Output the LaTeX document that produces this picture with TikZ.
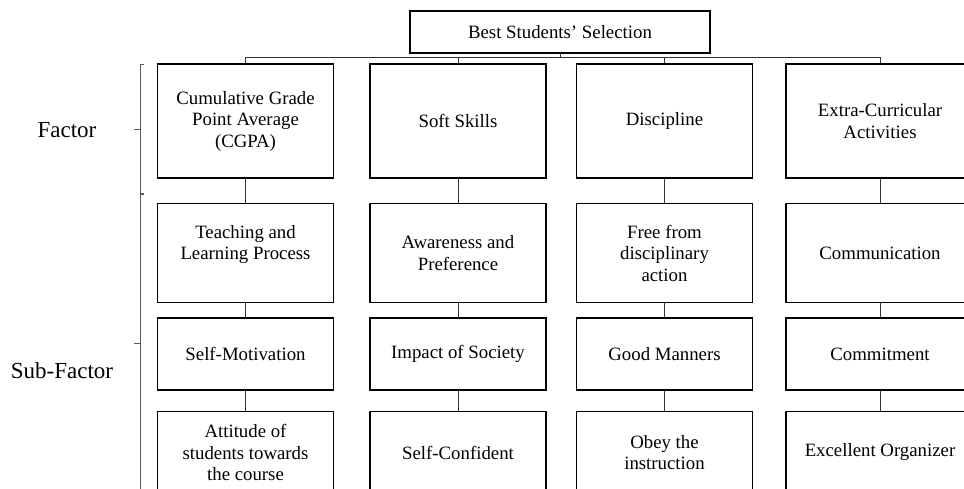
\documentclass[tikz,border=0pt]{standalone}
\usepackage{fontspec}
\setmainfont{Liberation Serif}
\usetikzlibrary{positioning}

\tikzset{
  boxtext/.style={font=\fontsize{18.8}{21.5}\selectfont, align=center},
  topbox/.style={draw, line width=1.5pt, boxtext, minimum width=300pt, minimum height=42pt},
  factorbox/.style={draw, line width=1.5pt, boxtext, minimum width=176pt, minimum height=114pt},
  subbox/.style={draw, line width=1.5pt, boxtext, minimum width=176pt},
  link/.style={draw=black!80, line width=0.9pt},
  bracket/.style={draw=black!65, line width=0.9pt},
  sidelabel/.style={font=\fontsize{23}{27}\selectfont}
}

\begin{document}
\begin{tikzpicture}[x=1pt, y=-1pt]

  \useasboundingbox (0,0) rectangle (964,489);
  \clip (0,0) rectangle (964,489);

  % Define nodes
  \node[topbox] (best) at (560,32) {Best Students’ Selection};

  \node[factorbox] (cgpa) at (245.5,121) {Cumulative Grade\\Point Average\\(CGPA)};
  \node[factorbox] (soft) at (458,121) {Soft Skills};
  \node[factorbox] (disc) at (664.5,121) {Discipline};
  \node[factorbox, minimum width=188pt] (extra) at (880,121) {Extra-Curricular\\Activities};

  \node[subbox, minimum height=99pt, below=24pt of cgpa] (teach) {Teaching and\\Learning Process\\ };
  \node[subbox, minimum height=72pt, below=14pt of teach] (motiv) {Self-Motivation};
  \node[subbox, minimum height=82pt, below=20pt of motiv] (attit) {Attitude of\\students towards\\the course};

  \node[subbox, minimum height=99pt, below=24pt of soft] (aware) {Awareness and\\Preference};
  \node[subbox, minimum height=72pt, below=14pt of aware] (impact) {Impact of Society};
  \node[subbox, minimum height=82pt, below=20pt of impact] (confid) {Self-Confident};

  \node[subbox, minimum height=99pt, below=24pt of disc] (free) {Free from\\disciplinary\\action};
  \node[subbox, minimum height=72pt, below=14pt of free] (manner) {Good Manners};
  \node[subbox, minimum height=82pt, below=20pt of manner] (obey) {Obey the\\instruction};

  \node[subbox, minimum width=188pt, minimum height=99pt, below=24pt of extra] (commun) {Communication};
  \node[subbox, minimum width=188pt, minimum height=72pt, below=14pt of commun] (commit) {Commitment};
  \node[subbox, minimum width=188pt, minimum height=82pt, below=20pt of commit] (organ) {Excellent Organizer};

  \node[sidelabel] (factor) at (67,130) {Factor};
  \node[sidelabel] (subfactor) at (62,371) {Sub-Factor};

  % Connect nodes
  \coordinate (hub) at ([yshift=-4pt]best.south);
  \draw[link] (best.south) -- (hub);
  \draw[link] (hub) -| (cgpa.north);
  \draw[link] (hub) -| (soft.north);
  \draw[link] (hub) -| (disc.north);
  \draw[link] (hub) -| (extra.north);

  \draw[link] (cgpa) -- (teach);
  \draw[link] (teach) -- (motiv);
  \draw[link] (motiv) -- (attit);
  \draw[link] (soft) -- (aware);
  \draw[link] (aware) -- (impact);
  \draw[link] (impact) -- (confid);
  \draw[link] (disc) -- (free);
  \draw[link] (free) -- (manner);
  \draw[link] (manner) -- (obey);
  \draw[link] (extra) -- (commun);
  \draw[link] (commun) -- (commit);
  \draw[link] (commit) -- (organ);

  % Brackets
  \draw[bracket] (144,64) -- (140,64) -- (140,193) -- (144,193);
  \draw[bracket] (134,129) -- (140,129);
  \draw[bracket] (144,194) -- (140,194) -- (140,500);
  \draw[bracket] (134,343) -- (140,343);

\end{tikzpicture}
\end{document}
